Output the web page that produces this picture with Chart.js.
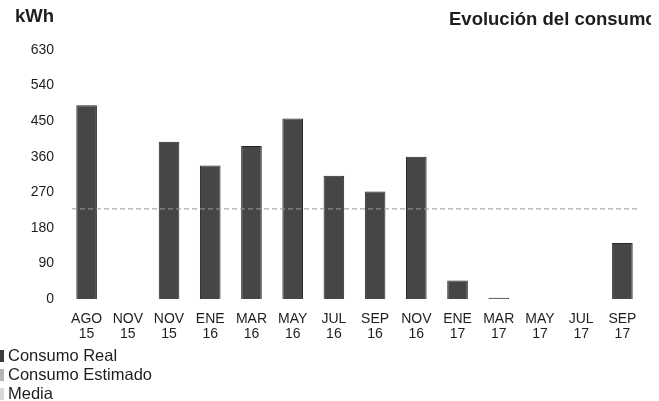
<!DOCTYPE html>
<html>
<head>
<meta charset="utf-8">
<script src="https://cdn.jsdelivr.net/npm/chart.js@4"></script>
<style>
  body { margin: 0; background: #fff; font-family: 'Liberation Sans', Arial, sans-serif; color: #1e1e1e; }
  #wrap { position: relative; width: 659px; height: 401px; overflow: hidden; }
  #chart { position: absolute; left: 0; top: 0; }
  .unit { position: absolute; left: 15px; top: 5px; font-weight: bold; font-size: 18.5px; }
  .title { position: absolute; left: 449px; top: 8px; width: 202px; overflow: hidden; white-space: nowrap; font-weight: bold; font-size: 18.5px; }
  .leg { position: absolute; left: 8px; font-size: 16.5px; line-height: 19px; white-space: nowrap; }
  .leg i { position: absolute; left: -16px; top: 4px; width: 12px; height: 12px; }
</style>
</head>
<body>
<div id="wrap">
  <canvas id="chart" width="659" height="401"></canvas>
  <div class="unit">kWh</div>
  <div class="title">Evolución del consumo</div>
  <div class="leg" style="top:346px"><i style="background:#3c3c3c"></i>Consumo Real</div>
  <div class="leg" style="top:365px"><i style="background:#b4b4b4"></i>Consumo Estimado</div>
  <div class="leg" style="top:384px"><i style="background:#d8d8d8"></i>Media</div>
</div>
<script>
// ── Datos ────────────────────────────────────────────────────────────────
const MONTHS = ['AGO', 'NOV', 'NOV', 'ENE', 'MAR', 'MAY', 'JUL', 'SEP', 'NOV', 'ENE', 'MAR', 'MAY', 'JUL', 'SEP'];
const YEARS  = ['15',  '15',  '15',  '16',  '16',  '16',  '16',  '16',  '16',  '17',  '17',  '17',  '17',  '17'];
const CONSUMO_REAL = [490, null, 398, 338, 387, 457, 312, 272, 360, 47, 3, null, null, 142];
const MEDIA = 228;
const Y_TICKS = [0, 90, 180, 270, 360, 450, 540, 630];

// línea de la media, a lo ancho del área del gráfico
const mediaLine = {
  id: 'mediaLine',
  afterDatasetsDraw(chart) {
    const { ctx, chartArea, scales } = chart;
    const y = scales.y.getPixelForValue(MEDIA);
    ctx.save();
    ctx.strokeStyle = '#9a9a9a';
    ctx.lineWidth = 1;
    ctx.setLineDash([5, 3]);
    ctx.beginPath();
    ctx.moveTo(chartArea.left + 6, y);
    ctx.lineTo(chartArea.right - 4, y);
    ctx.stroke();
    ctx.restore();
  },
};

new Chart(document.getElementById('chart'), {
  type: 'bar',
  data: {
    labels: MONTHS.map((m, i) => [m, YEARS[i]]),
    datasets: [{
      label: 'Consumo Real',
      data: CONSUMO_REAL,
      backgroundColor: '#464646',
      borderColor: '#262626',
      borderWidth: 1,
      barPercentage: 0.5,
      categoryPercentage: 1.0,
      minBarLength: 1,
    }],
  },
  options: {
    responsive: false,
    animation: false,
    events: [],
    layout: { padding: { left: 0, top: 50, right: 16, bottom: 0 } },
    plugins: { legend: { display: false }, tooltip: { enabled: false } },
    scales: {
      x: {
        grid: { display: false, drawTicks: false },
        border: { display: false },
        ticks: {
          color: '#1e1e1e',
          font: { family: "'Liberation Sans', Arial, sans-serif", size: 14, lineHeight: 1.05 },
          padding: 13,
          maxRotation: 0,
          autoSkip: false,
        },
        afterFit: s => { s.height = 102; },
      },
      y: {
        min: 0, max: 630,
        afterBuildTicks: s => { s.ticks = Y_TICKS.map(v => ({ value: v })); },
        grid: { display: false, drawTicks: false },
        border: { display: false },
        ticks: {
          color: '#1e1e1e',
          font: { family: "'Liberation Sans', Arial, sans-serif", size: 14 },
          padding: 12,
        },
        afterFit: s => { s.width = 66; },
      },
    },
  },
  plugins: [mediaLine],
});
</script>
</body>
</html>
